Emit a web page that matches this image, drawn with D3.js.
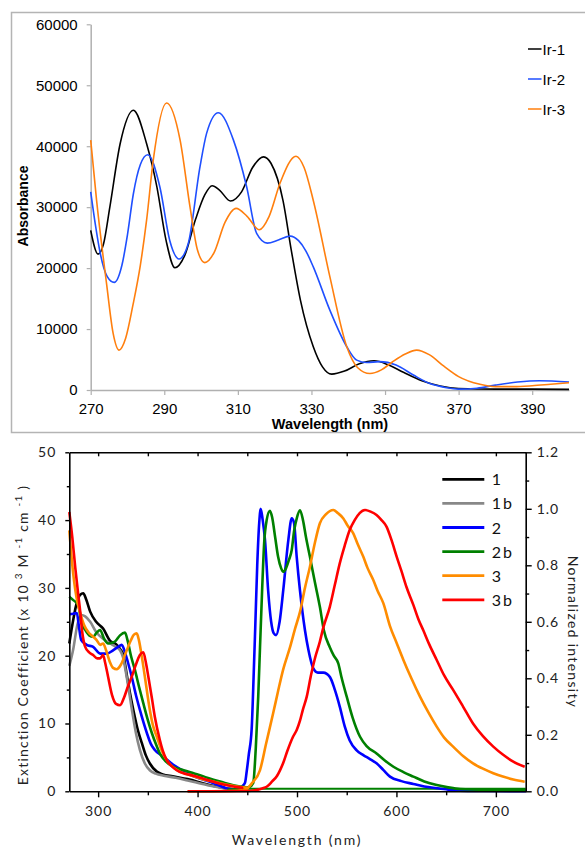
<!DOCTYPE html>
<html>
<head>
<meta charset="utf-8">
<script src="https://cdn.jsdelivr.net/npm/d3@7"></script>
<style>
  body { margin: 0; background: #fff; }
  svg { display: block; }
</style>
</head>
<body>
<svg id="chart" width="585" height="848"></svg>
<script>
// Top panel: absorbance of the three Ir complexes, [wavelength nm, absorbance].
var ir1 = [[270,26200],[272,22300],[273.5,24000],[275.2,30000],[278,40400],[281.6,45900],[285.2,40400],
  [288,33300],[290.5,24500],[292.9,20050],[295.5,22000],[298.5,28000],[301,32000],[303,33500],[305,32800],
  [308,31000],[311,32500],[314,36500],[317,38250],[319,37200],[322.3,31000],[324.5,23000],[327,14750],
  [330.5,7100],[333,3800],[335.5,2600],[339,3100],[343,4300],[347,4800],[351,4100],[355,2900],[360,1500],
  [365,650],[370,250],[380,150],[390,150],[400,100]];
var ir2 = [[270,32500],[271.3,27000],[272.6,22400],[274.5,18600],[276.4,17650],[278.5,20500],[280,25500],
  [281.6,32200],[283.5,37000],[285.5,38600],[288.8,33300],[291.5,24500],[294,21500],[296.5,24000],
  [299.7,36600],[301.5,42100],[304.7,45500],[308.8,41000],[312.4,33300],[315.1,25700],[318,24100],
  [321,24600],[324.2,25250],[326.5,24500],[328.5,22800],[330.5,20200],[335,13100],[339.6,7100],
  [342.3,4900],[345,4500],[348.5,4650],[353,4100],[357.7,2450],[362,1100],[366.7,380],[370,150],
  [375,300],[380,800],[386,1300],[392,1520],[400,1300]];
var ir3 = [[270,41000],[271.6,31100],[274.3,17500],[276.1,9300],[277.7,6550],[279.5,8500],[281.5,14000],
  [283.5,20500],[285.2,27900],[287,37700],[290.6,47100],[294.3,41000],[297,30000],[299,23000],[301,20900],
  [303.5,22500],[306.5,27500],[309.5,29800],[312.5,28500],[315.8,26300],[318.5,28500],[321.5,34000],
  [325.8,38350],[328,36500],[330.5,31100],[335,18600],[339.6,7100],[342.5,3700],[345.9,2700],[349,3300],
  [352,4600],[355.5,5900],[358.6,6550],[362,5800],[366,3900],[370,2200],[375.8,930],[380,550],[385,550],
  [390,700],[395,950],[400,1200]];
var topNames = ["Ir-1", "Ir-2", "Ir-3"];
var topYTicks = [0, 10000, 20000, 30000, 40000, 50000, 60000];
var topXTicks = [270, 290, 310, 330, 350, 370, 390];

// Bottom panel: absorption (10^3 M-1 cm-1) and normalized emission, [wavelength nm, value].
var abs1 = [[271,21.8],[274,24.5],[278,27.5],[282,29],[285,29.2],[288,28.3],[292,26.5],[298,25],[305,24],
  [312,22.2],[318,21.7],[322,21],[325.5,20],[329,17],[332,14.5],[335.4,12],[340,9],[344,7.1],[348,5.3],
  [352,4.1],[359,2.9],[365,2.5],[375,2.2],[390,1.8],[410,1.0],[430,0.4],[445,0.2]];
var abs1b = [[271,18.5],[275,21],[279,24.5],[283,26],[287,25.8],[292,25],[298,23.5],[305,22.5],[312,21.8],
  [318,21.3],[322,20.8],[325,19.8],[328,17.5],[331,14.8],[334,12],[338,8.6],[342,6.1],[347,4.1],[352,3.1],
  [358,2.6],[366,2.3],[378,2.0],[390,1.6],[410,0.9],[430,0.4],[445,0.2]];
var abs2 = [[271,26.1],[275,26.2],[278.6,26.3],[280.5,24.5],[283,22.3],[288.5,21.6],[295,21.3],[302,20.3],
  [308.6,20.3],[315,20.8],[320,21.3],[323.7,21.6],[327,20.5],[330,19],[333.8,16.9],[338,14.2],[342,12],
  [349,8.6],[353,7],[357,6.1],[365.5,5.1],[375.6,3.9],[386,3],[396,2.2],[406,1.7],[416,1.2],[429,0.45],
  [440,0.2]];
var abs2b = [[271,28.7],[275,28.2],[280,27.5],[283,25],[287,23.8],[291,23],[295,22.8],[298.5,23.4],
  [302,23.8],[306,22.5],[310,21.8],[314,21.9],[317,22.1],[322,23],[327,23.4],[330,22],[333,20],[337,17.9],
  [341,15.5],[345.4,13],[350,10.5],[354,8.6],[358,7],[362,5.6],[368,4.4],[375.6,3.6],[386,3.1],[396,2.65],
  [406,2.2],[416,1.7],[426,1.3],[436,0.9],[449,0.6]];
var abs3 = [[271,38.5],[275,32],[279,28],[282,26.3],[286,24.5],[290,23.5],[295,22.8],[298.5,22.3],[302,21.6],
  [305,21.8],[308,20.8],[312,19],[315,18.2],[318.7,18],[323,18.7],[328,20.5],[333,22.3],[336,23.1],
  [338.8,23.3],[341,22.3],[344,19.8],[347,16.9],[352,12],[355,9.8],[359,8.05],[364,6],[369,4.6],[375,3.6],
  [382,2.9],[392,2.4],[402.5,1.9],[412,1.55],[422.6,1.2],[430,0.95],[440,0.7],[450,0.5]];
var abs3b = [[271,41.2],[274,37.5],[277,33],[280,29],[282,26.5],[284,23.5],[287,21.3],[291,20.5],[295,20.1],
  [299,19.6],[302,19.6],[305,20.1],[307,19],[310,16.9],[314,14.2],[318,12.9],[322,12.7],[326,13.8],
  [330,15.5],[333.8,16.9],[338,18.7],[342,20.1],[345.4,20.5],[348,19],[350.5,16.9],[354,13.8],[357,11],
  [362,7.6],[365,6],[369,4.6],[374,3.7],[379,3.1],[387,2.6],[396,2.3],[406,1.85],[416,1.4],[426,1.0],
  [436,0.7],[446,0.5]];
var em2 = [[430,0.004],[440,0.008],[445,0.018],[447.7,0.03],[449.4,0.07],[451.5,0.13],[454.4,0.22],
  [456.5,0.42],[458,0.58],[460,0.8],[462,0.95],[463.5,1.0],[465.5,0.96],[467.8,0.89],[471,0.71],[474,0.6],
  [476.5,0.56],[479,0.553],[482.5,0.6],[486.2,0.713],[491.3,0.89],[494.7,0.966],[497,0.95],[499.7,0.83],
  [503,0.71],[508,0.57],[511.5,0.5],[516.4,0.435],[521,0.42],[526.5,0.42],[533,0.405],[538,0.36],
  [543,0.3],[548,0.23],[553,0.18],[560,0.145],[566.7,0.128],[573,0.115],[580,0.099],[587,0.075],
  [593.5,0.052],[605,0.036],[617,0.026],[628,0.017],[640.5,0.011],[652,0.006],[664,0.002],[690,0.001],
  [730,0]];
var em2b = [[430,0.005],[445,0.01],[452,0.015],[456,0.03],[458.5,0.15],[461,0.335],[462.8,0.51],[465,0.72],
  [467,0.88],[469.5,0.96],[472.8,0.993],[475,0.97],[478,0.9],[481,0.83],[484,0.79],[486.2,0.777],[489,0.79],
  [492,0.82],[494.7,0.854],[497,0.92],[500,0.97],[503,0.995],[506,0.96],[509,0.9],[513,0.83],[518,0.74],
  [523,0.653],[527,0.57],[533,0.51],[537,0.48],[541.5,0.453],[545,0.4],[550,0.335],[556,0.26],
  [563.4,0.193],[570,0.16],[580,0.134],[588,0.11],[597,0.087],[607,0.068],[617,0.052],[628,0.035],
  [640.5,0.022],[652,0.014],[664,0.008],[691,0.005],[730,0.004]];
var em2bBase = [[440,0.009],[730,0.009]];
var em3 = [[390,0],[440,0.002],[447.7,0.005],[455,0.03],[462.8,0.075],[469,0.17],[476,0.276],[481,0.355],
  [486,0.43],[493,0.51],[498,0.575],[503,0.635],[508,0.72],[513,0.795],[518,0.88],[523,0.949],[529,0.98],
  [536.5,0.996],[541,0.985],[546.6,0.966],[551,0.94],[556.6,0.913],[561,0.875],[566.7,0.83],[571,0.79],
  [576.7,0.748],[581,0.71],[586.8,0.666],[593.5,0.585],[600.3,0.524],[607,0.465],[615,0.4],[623.7,0.335],
  [632,0.28],[640.5,0.229],[648,0.19],[657,0.158],[667,0.125],[677,0.099],[687,0.08],[697.4,0.064],
  [707,0.052],[717.5,0.042],[729,0.034]];
var em3b = [[390,0],[450,0.001],[460,0.005],[465,0.01],[469.5,0.016],[475,0.035],[480,0.055],[483,0.075],
  [486,0.099],[490,0.14],[496,0.193],[499.7,0.217],[503,0.25],[506,0.29],[509.8,0.335],[514,0.41],
  [518,0.47],[523,0.53],[526.5,0.58],[533,0.653],[538,0.73],[543,0.807],[548,0.87],[553,0.925],[558,0.96],
  [563,0.985],[568.4,0.996],[574,0.99],[580,0.978],[585,0.96],[590,0.937],[595,0.89],[600.3,0.83],
  [605,0.78],[610,0.724],[617,0.66],[622,0.61],[627,0.57],[633,0.52],[640.5,0.465],[648,0.41],[657,0.359],
  [667,0.3],[677,0.24],[687,0.195],[697.4,0.158],[707,0.13],[717.5,0.105],[729,0.087]];
var botNames = ["1", "1b", "2", "2b", "3", "3b"];
var botYTicks = d3.range(0, 55, 5);
var botRTicks = d3.range(0, 13).map(function(i) { return i / 10; });
var botXTicks = d3.range(300, 750, 50);

var topColors = ["#000000", "#1f4fff", "#ff7f0e"];
var botColors = ["#000000", "#888888", "#0000ff", "#008000", "#ff8c00", "#ff0000"];

var svg = d3.select("#chart");

// ---------- top panel ----------
svg.append("rect")
  .attr("x", 11.5).attr("y", 12.5).attr("width", 620).attr("height", 420)
  .attr("fill", "none").attr("stroke", "#b4b4b4").attr("stroke-width", 1.5);

var tx = d3.scaleLinear().domain([270, 400]).range([90.7, 569]);
var ty = d3.scaleLinear().domain([0, 60000]).range([390, 24.3]);

var tyAxis = svg.append("g")
  .attr("transform", "translate(" + tx(270) + ",0)")
  .call(d3.axisLeft(ty).tickValues(topYTicks).tickSize(4).tickSizeOuter(0).tickPadding(9)
    .tickFormat(d3.format("d")));
var txAxis = svg.append("g")
  .attr("transform", "translate(0," + ty(0) + ")")
  .call(d3.axisBottom(tx).tickValues(topXTicks).tickSize(5).tickSizeOuter(0).tickPadding(8));

[tyAxis, txAxis].forEach(function(a) {
  a.select(".domain").attr("stroke", "#b0b0b0").attr("stroke-width", 1.5);
  a.selectAll(".tick line").attr("stroke", "#b0b0b0").attr("stroke-width", 1.2);
  a.selectAll(".tick text").attr("fill", "#000")
    .style("font-family", "'Liberation Sans', Arial, sans-serif").style("font-size", "15px");
});

var topLine = d3.line()
  .x(function(d) { return tx(d[0]); })
  .y(function(d) { return ty(d[1]); })
  .curve(d3.curveMonotoneX);

svg.append("g").selectAll("path")
  .data([ir1, ir2, ir3])
  .enter()
  .append("path")
  .attr("d", topLine)
  .attr("fill", "none")
  .attr("stroke", function(d, i) { return topColors[i]; })
  .attr("stroke-width", 1.6);

var topLeg = svg.append("g").selectAll("g")
  .data(topNames)
  .enter()
  .append("g")
  .attr("transform", function(d, i) { return "translate(528," + (49 + i * 30) + ")"; });
topLeg.append("line")
  .attr("x1", 0).attr("x2", 13.5).attr("y1", 0).attr("y2", 0)
  .attr("stroke", function(d, i) { return topColors[i]; })
  .attr("stroke-width", 1.5);
topLeg.append("text")
  .attr("x", 14.5).attr("y", 5.5)
  .style("font-family", "'Liberation Sans', Arial, sans-serif").style("font-size", "15px")
  .text(function(d) { return d; });

svg.append("text")
  .attr("transform", "translate(28,206) rotate(-90)")
  .attr("text-anchor", "middle")
  .style("font-family", "'Liberation Sans', Arial, sans-serif").style("font-size", "14px")
  .style("font-weight", "bold")
  .text("Absorbance");
svg.append("text")
  .attr("x", 330).attr("y", 429)
  .attr("text-anchor", "middle")
  .style("font-family", "'Liberation Sans', Arial, sans-serif").style("font-size", "14.5px")
  .style("font-weight", "bold")
  .text("Wavelength (nm)");

// ---------- bottom panel ----------
var bx = d3.scaleLinear().domain([271, 730]).range([69.3, 525.7]);
var by = d3.scaleLinear().domain([0, 50]).range([791.3, 452.3]);
var byr = d3.scaleLinear().domain([0, 1.2]).range([791.3, 452.3]);
var botFont = "Lato, 'Open Sans', sans-serif";

var absLine = d3.line()
  .x(function(d) { return bx(d[0]); })
  .y(function(d) { return by(d[1]); })
  .curve(d3.curveMonotoneX);
var emLine = d3.line()
  .x(function(d) { return bx(d[0]); })
  .y(function(d) { return byr(d[1]); })
  .curve(d3.curveMonotoneX);

var absSeries = [abs1, abs1b, abs2, abs2b, abs3, abs3b];
var emSeries = [null, null, em2, em2b, em3, em3b];

svg.append("path")
  .attr("d", emLine(em2bBase))
  .attr("fill", "none").attr("stroke", botColors[3]).attr("stroke-width", 2);

var curves = svg.append("g");
absSeries.forEach(function(s, i) {
  curves.append("path")
    .attr("d", absLine(s))
    .attr("fill", "none")
    .attr("stroke", botColors[i])
    .attr("stroke-width", 2.6);
  if (emSeries[i]) {
    curves.append("path")
      .attr("d", emLine(emSeries[i]))
      .attr("fill", "none")
      .attr("stroke", botColors[i])
      .attr("stroke-width", 2.6);
  }
});

var lAxis = svg.append("g")
  .attr("transform", "translate(" + bx(271) + ",0)")
  .call(d3.axisLeft(by).tickValues(botYTicks).tickSize(4).tickSizeOuter(0).tickPadding(9)
    .tickFormat(function(d) { return d % 10 === 0 ? d : ""; }));
lAxis.selectAll(".tick line").attr("x2", function(d) { return d % 10 === 0 ? -4 : -2.5; });

var rAxis = svg.append("g")
  .attr("transform", "translate(" + bx(730) + ",0)")
  .call(d3.axisRight(byr).tickValues(botRTicks).tickSize(6).tickSizeOuter(0).tickPadding(5)
    .tickFormat(function(d, i) { return i % 2 === 0 ? d3.format(".1f")(d) : ""; }));
rAxis.selectAll(".tick line").attr("x2", function(d, i) { return i % 2 === 0 ? 6 : 3.5; });

var bAxis = svg.append("g")
  .attr("transform", "translate(0," + by(0) + ")")
  .call(d3.axisBottom(bx).tickValues(botXTicks).tickSize(6).tickSizeOuter(0).tickPadding(9)
    .tickFormat(function(d) { return d % 100 === 0 ? d : ""; }));
bAxis.selectAll(".tick line").attr("y2", function(d) { return d % 100 === 0 ? 6 : 4; });

var tAxis = svg.append("g")
  .attr("transform", "translate(0," + by(50) + ")")
  .call(d3.axisTop(bx).tickValues(botXTicks).tickSize(-4).tickSizeOuter(0).tickFormat(""));

[lAxis, rAxis, bAxis, tAxis].forEach(function(a) {
  a.select(".domain").attr("stroke", "#000").attr("stroke-width", 1.6);
  a.selectAll(".tick line").attr("stroke", "#000").attr("stroke-width", 1.4);
  a.selectAll(".tick text").attr("fill", "#222")
    .style("font-family", botFont).style("font-size", "14px").style("letter-spacing", "1px");
});

var botLeg = svg.append("g").selectAll("g")
  .data(botNames)
  .enter()
  .append("g")
  .attr("transform", function(d, i) { return "translate(442.3," + (479.3 + i * 24.1) + ")"; });
botLeg.append("line")
  .attr("x1", 0).attr("x2", 42).attr("y1", 0).attr("y2", 0)
  .attr("stroke", function(d, i) { return botColors[i]; })
  .attr("stroke-width", 2.8);
botLeg.append("text")
  .attr("x", 49.5).attr("y", 6)
  .style("font-family", botFont).style("font-size", "16px").style("letter-spacing", "2px")
  .attr("fill", "#111")
  .text(function(d) { return d; });

var yl = svg.append("text")
  .attr("transform", "translate(27.5,635) rotate(-90)")
  .attr("text-anchor", "middle")
  .attr("fill", "#222")
  .style("font-family", botFont).style("font-size", "14px").style("letter-spacing", "1.2px");
yl.append("tspan").text("Extinction Coefficient (x 10 ");
yl.append("tspan").attr("dy", -6).style("font-size", "10px").text("3");
yl.append("tspan").attr("dy", 6).text(" M ");
yl.append("tspan").attr("dy", -6).style("font-size", "10px").text("-1");
yl.append("tspan").attr("dy", 6).text(" cm ");
yl.append("tspan").attr("dy", -6).style("font-size", "10px").text("-1");
yl.append("tspan").attr("dy", 6).text(" )");

svg.append("text")
  .attr("transform", "translate(568,632) rotate(90)")
  .attr("text-anchor", "middle")
  .attr("fill", "#222")
  .style("font-family", botFont).style("font-size", "14px").style("letter-spacing", "1.3px")
  .text("Normalized intensity");

svg.append("text")
  .attr("x", 297).attr("y", 845)
  .attr("text-anchor", "middle")
  .attr("fill", "#222")
  .style("font-family", botFont).style("font-size", "14px").style("letter-spacing", "1.8px")
  .text("Wavelength (nm)");
</script>
</body>
</html>
